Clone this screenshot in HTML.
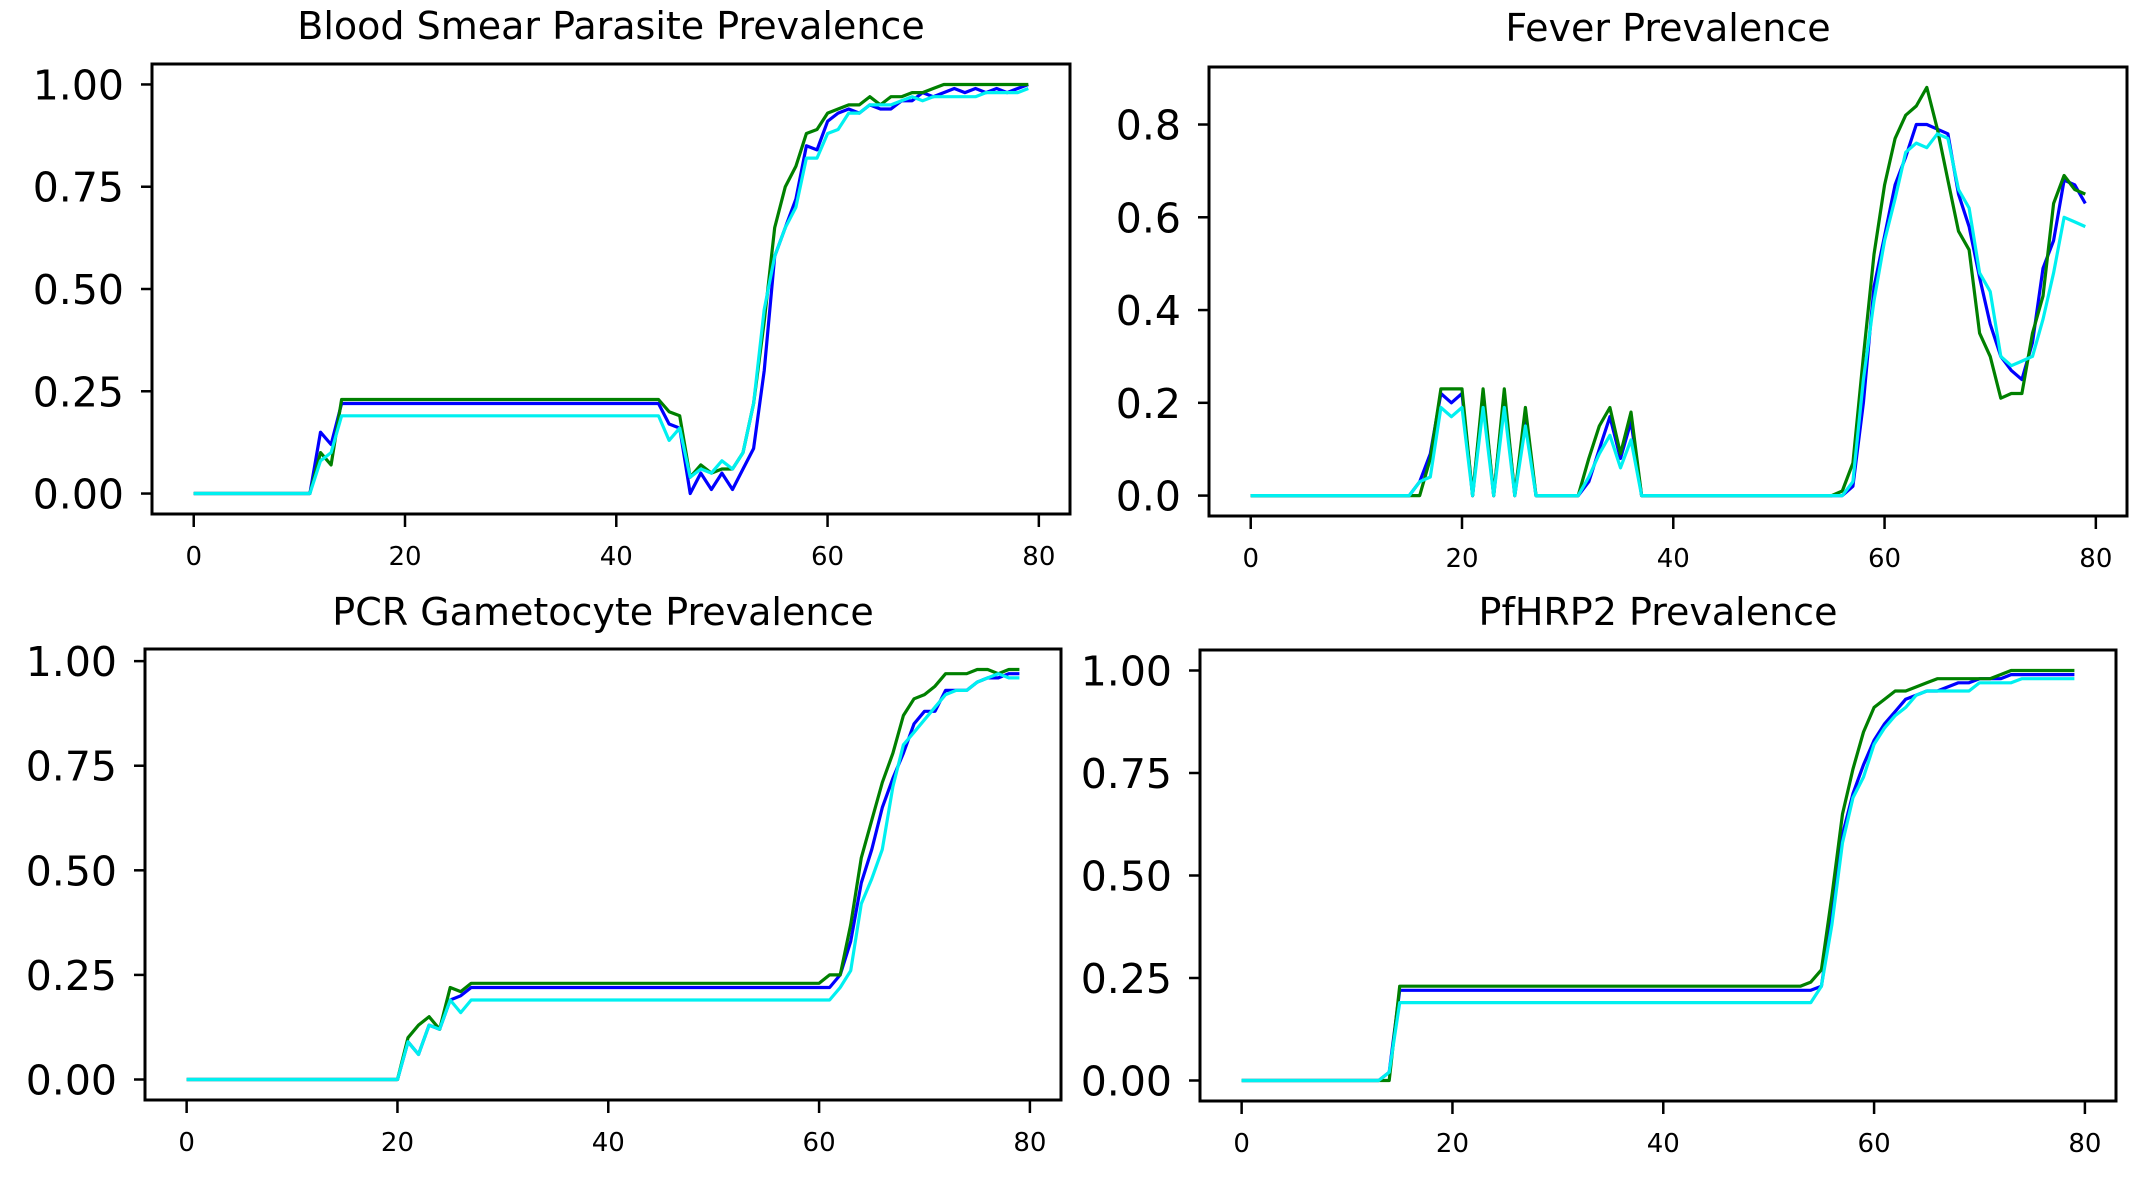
<!DOCTYPE html>
<html><head><meta charset="utf-8">
<style>
html,body{margin:0;padding:0;background:#fff;}
svg{display:block;font-family:"DejaVu Sans","Liberation Sans",sans-serif;}
</style></head>
<body>
<svg id="fig" width="2150" height="1178" viewBox="0 0 2150 1178" xmlns="http://www.w3.org/2000/svg"></svg>
<script>
const xTicks = [0, 20, 40, 60, 80];
const yTicksA = [0, 0.25, 0.5, 0.75, 1.0];
const yTickLabelsA = ["0.00", "0.25", "0.50", "0.75", "1.00"];
const yTicksB = [0, 0.2, 0.4, 0.6, 0.8];
const yTickLabelsB = ["0.0", "0.2", "0.4", "0.6", "0.8"];
const titles = ["Blood Smear Parasite Prevalence", "Fever Prevalence", "PCR Gametocyte Prevalence", "PfHRP2 Prevalence"];

const smearBlue = [0,0,0,0,0,0,0,0,0,0, 0,0,.15,.12,.22,.22,.22,.22,.22,.22, .22,.22,.22,.22,.22,.22,.22,.22,.22,.22, .22,.22,.22,.22,.22,.22,.22,.22,.22,.22, .22,.22,.22,.22,.22,.17,.16,0,.05,.01, .05,.01,.06,.11,.30,.58,.65,.72,.85,.84, .91,.93,.94,.93,.95,.94,.94,.96,.96,.98, .97,.98,.99,.98,.99,.98,.99,.98,.99,1];
const smearGreen = [0,0,0,0,0,0,0,0,0,0, 0,0,.10,.07,.23,.23,.23,.23,.23,.23, .23,.23,.23,.23,.23,.23,.23,.23,.23,.23, .23,.23,.23,.23,.23,.23,.23,.23,.23,.23, .23,.23,.23,.23,.23,.20,.19,.04,.07,.05, .06,.06,.10,.22,.42,.65,.75,.80,.88,.89, .93,.94,.95,.95,.97,.95,.97,.97,.98,.98, .99,1,1,1,1,1,1,1,1,1];
const smearCyan = [0,0,0,0,0,0,0,0,0,0, 0,0,.08,.10,.19,.19,.19,.19,.19,.19, .19,.19,.19,.19,.19,.19,.19,.19,.19,.19, .19,.19,.19,.19,.19,.19,.19,.19,.19,.19, .19,.19,.19,.19,.19,.13,.16,.04,.06,.05, .08,.06,.10,.22,.45,.58,.65,.70,.82,.82, .88,.89,.93,.93,.95,.95,.95,.96,.97,.96, .97,.97,.97,.97,.97,.98,.98,.98,.98,.99];

const feverBlue = [0,0,0,0,0,0,0,0,0,0, 0,0,0,0,0,0,.03,.09,.22,.20, .22,0,.22,0,.22,0,.17,0,0,0, 0,0,.03,.10,.17,.08,.16,0,0,0, 0,0,0,0,0,0,0,0,0,0, 0,0,0,0,0,0,0,.02,.20,.45, .56,.67,.73,.80,.80,.79,.78,.65,.58,.47, .37,.30,.27,.25,.33,.49,.55,.68,.67,.63];
const feverGreen = [0,0,0,0,0,0,0,0,0,0, 0,0,0,0,0,0,0,.08,.23,.23, .23,0,.23,0,.23,0,.19,0,0,0, 0,0,.08,.15,.19,.09,.18,0,0,0, 0,0,0,0,0,0,0,0,0,0, 0,0,0,0,0,0,.01,.07,.30,.52, .67,.77,.82,.84,.88,.79,.68,.57,.53,.35, .30,.21,.22,.22,.35,.43,.63,.69,.66,.65];
const feverCyan = [0,0,0,0,0,0,0,0,0,0, 0,0,0,0,0,0,.03,.04,.19,.17, .19,0,.19,0,.19,0,.15,0,0,0, 0,0,.04,.09,.13,.06,.12,0,0,0, 0,0,0,0,0,0,0,0,0,0, 0,0,0,0,0,0,0,.03,.25,.42, .55,.64,.74,.76,.75,.78,.77,.66,.62,.48, .44,.30,.28,.29,.30,.38,.48,.60,.59,.58];

const pcrBlue = [0,0,0,0,0,0,0,0,0,0, 0,0,0,0,0,0,0,0,0,0, 0,.09,.06,.13,.12,.19,.20,.22,.22,.22, .22,.22,.22,.22,.22,.22,.22,.22,.22,.22, .22,.22,.22,.22,.22,.22,.22,.22,.22,.22, .22,.22,.22,.22,.22,.22,.22,.22,.22,.22, .22,.22,.25,.33,.47,.55,.65,.72,.78,.85, .88,.88,.93,.93,.93,.95,.96,.96,.97,.97];
const pcrGreen = [0,0,0,0,0,0,0,0,0,0, 0,0,0,0,0,0,0,0,0,0, 0,.10,.13,.15,.12,.22,.21,.23,.23,.23, .23,.23,.23,.23,.23,.23,.23,.23,.23,.23, .23,.23,.23,.23,.23,.23,.23,.23,.23,.23, .23,.23,.23,.23,.23,.23,.23,.23,.23,.23, .23,.25,.25,.37,.53,.62,.71,.78,.87,.91, .92,.94,.97,.97,.97,.98,.98,.97,.98,.98];
const pcrCyan = [0,0,0,0,0,0,0,0,0,0, 0,0,0,0,0,0,0,0,0,0, 0,.09,.06,.13,.12,.19,.16,.19,.19,.19, .19,.19,.19,.19,.19,.19,.19,.19,.19,.19, .19,.19,.19,.19,.19,.19,.19,.19,.19,.19, .19,.19,.19,.19,.19,.19,.19,.19,.19,.19, .19,.19,.22,.26,.42,.48,.55,.70,.80,.83, .86,.89,.92,.93,.93,.95,.96,.97,.96,.96];

const hrpBlue = [0,0,0,0,0,0,0,0,0,0, 0,0,0,0,.02,.22,.22,.22,.22,.22, .22,.22,.22,.22,.22,.22,.22,.22,.22,.22, .22,.22,.22,.22,.22,.22,.22,.22,.22,.22, .22,.22,.22,.22,.22,.22,.22,.22,.22,.22, .22,.22,.22,.22,.22,.23,.40,.60,.70,.77, .83,.87,.90,.93,.94,.95,.95,.96,.97,.97, .98,.98,.98,.99,.99,.99,.99,.99,.99,.99];
const hrpGreen = [0,0,0,0,0,0,0,0,0,0, 0,0,0,0,0,.23,.23,.23,.23,.23, .23,.23,.23,.23,.23,.23,.23,.23,.23,.23, .23,.23,.23,.23,.23,.23,.23,.23,.23,.23, .23,.23,.23,.23,.23,.23,.23,.23,.23,.23, .23,.23,.23,.23,.24,.27,.45,.65,.76,.85, .91,.93,.95,.95,.96,.97,.98,.98,.98,.98, .98,.98,.99,1,1,1,1,1,1,1];
const hrpCyan = [0,0,0,0,0,0,0,0,0,0, 0,0,0,0,.02,.19,.19,.19,.19,.19, .19,.19,.19,.19,.19,.19,.19,.19,.19,.19, .19,.19,.19,.19,.19,.19,.19,.19,.19,.19, .19,.19,.19,.19,.19,.19,.19,.19,.19,.19, .19,.19,.19,.19,.19,.23,.38,.58,.69,.74, .82,.86,.89,.91,.94,.95,.95,.95,.95,.95, .97,.97,.97,.97,.98,.98,.98,.98,.98,.98];

const NS = "http://www.w3.org/2000/svg";
const svg = document.getElementById("fig");
function mk(tag, attrs, parent) {
  const e = document.createElementNS(NS, tag);
  for (const k in attrs) e.setAttribute(k, attrs[k]);
  (parent || svg).appendChild(e);
  return e;
}

const panels = [
  {box:[152,64,918,450], titleY:39, series:[smearBlue, smearGreen, smearCyan], ticks:yTicksA, labels:yTickLabelsA, key:"smear"},
  {box:[1209,67,918,449], titleY:41, series:[feverBlue, feverGreen, feverCyan], ticks:yTicksB, labels:yTickLabelsB, key:"fever"},
  {box:[145,649,916,451], titleY:625, series:[pcrBlue, pcrGreen, pcrCyan], ticks:yTicksA, labels:yTickLabelsA, key:"pcr"},
  {box:[1200,650,916,451], titleY:625, series:[hrpBlue, hrpGreen, hrpCyan], ticks:yTicksA, labels:yTickLabelsA, key:"pfhrp2"}
];
const colors = ["#0000ff", "#008000", "#00f0f0"];
const names = ["blue", "green", "cyan"];

panels.forEach((p, pi) => {
  const [L, T, W, H] = p.box;
  const g = mk("g", {});
  
  
  const n = p.series[0].length;
  const xmin = 0, xmax = n - 1, xpad = (xmax - xmin) * 0.05;
  let ymin = Infinity, ymax = -Infinity;
  p.series.forEach(s => s.forEach(v => { ymin = Math.min(ymin, v); ymax = Math.max(ymax, v); }));
  const ypad = (ymax - ymin) * 0.05;
  const x0 = xmin - xpad, x1 = xmax + xpad, y0 = ymin - ypad, y1 = ymax + ypad;
  const sx = v => L + (v - x0) / (x1 - x0) * W;
  const sy = v => T + H - (v - y0) / (y1 - y0) * H;

  const title = mk("text", {x: L + W / 2, y: p.titleY, "text-anchor": "middle", "font-size": 38, fill: "#000"}, g);
  title.textContent = titles[pi];
  
  

  const lines = mk("g", {}, g);
  
  
  p.series.forEach((s, si) => {
    const d = s.map((v, i) => (i ? "L" : "M") + sx(i).toFixed(1) + " " + sy(v).toFixed(1)).join(" ");
    const path = mk("path", {d: d, fill: "none", stroke: colors[si], "stroke-width": 3.2, "stroke-linejoin": "round"}, lines);
    
    
  });

  const frame = mk("rect", {x: L, y: T, width: W, height: H, fill: "none", stroke: "#000", "stroke-width": 3}, g);
  
  

  xTicks.forEach(t => {
    const X = sx(t);
    const tk = mk("line", {x1: X, x2: X, y1: T + H, y2: T + H + 13, stroke: "#000", "stroke-width": 2.5}, g);
    
    
    const lb = mk("text", {x: X, y: T + H + 51, "text-anchor": "middle", "font-size": 26, fill: "#000"}, g);
    lb.textContent = t;
    
    
  });
  p.ticks.forEach((t, ti) => {
    const Y = sy(t);
    const tk = mk("line", {x1: L - 11, x2: L, y1: Y, y2: Y, stroke: "#000", "stroke-width": 2.5}, g);
    
    
    const lb = mk("text", {x: L - 28, y: Y + 15, "text-anchor": "end", "font-size": 41, fill: "#000"}, g);
    lb.textContent = p.labels[ti];
    
    
  });
});
</script>
</body></html>
